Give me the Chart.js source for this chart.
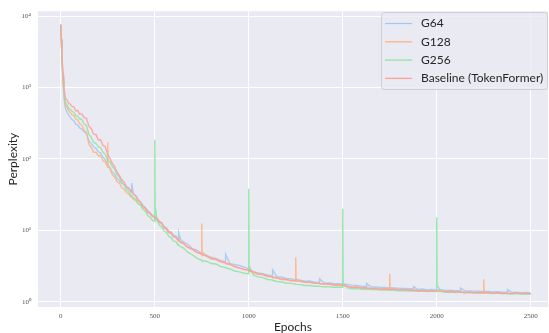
<!DOCTYPE html>
<html>
<head>
<meta charset="utf-8">
<script src="https://cdn.jsdelivr.net/npm/chart.js@4/dist/chart.umd.min.js"></script>
<style>
  html, body { margin: 0; padding: 0; background: #ffffff; }
  #wrap { width: 549px; height: 333px; }
</style>
</head>
<body>
<div id="wrap"><canvas id="chart"></canvas></div>
<script>
// epochs shared by all runs (denser near the start and around spikes)
const epochs = [
  0, 3, 6, 9, 12, 16, 21, 27, 34, 42, 50, 60, 70, 80, 90, 100,
  112, 125, 137, 150, 162, 175, 187, 200, 212, 225, 237, 249,
  250, 252, 262, 275, 287, 300, 312, 325, 337, 350, 362, 375,
  377, 387, 400, 412, 425, 437, 450, 462, 475, 487, 499,
  500, 502, 512, 525, 537, 550, 562, 575, 587, 600, 612, 625,
  627, 637, 650, 675, 700, 725, 749, 750, 752,
  775, 800, 825, 850, 875, 877, 900, 925, 950, 975, 999, 1000, 1002,
  1025, 1050, 1075, 1100, 1125, 1127, 1150, 1175, 1200, 1225, 1249, 1250, 1252,
  1275, 1300, 1325, 1350, 1375, 1377, 1400, 1425, 1450, 1475, 1499, 1500, 1502,
  1525, 1550, 1575, 1600, 1625, 1627, 1650, 1675, 1700, 1725, 1749, 1750, 1752,
  1775, 1800, 1825, 1850, 1875, 1877, 1900, 1925, 1950, 1975, 1999, 2000, 2002,
  2025, 2050, 2075, 2100, 2125, 2127, 2150, 2175, 2200, 2225, 2249, 2250, 2252,
  2275, 2300, 2325, 2350, 2375, 2377, 2400, 2425, 2450, 2475, 2500
];

const g64 = [
  7400, 4400, 2700, 1750, 1200, 820, 590, 490, 450, 415, 385, 355, 345, 305, 302, 272,
  262, 238, 224, 178, 164, 148, 140, 126, 121, 106, 97, 82,
  84, 79, 76, 65, 61, 53, 50, 45.5, 43.5, 39.5, 38, 34.5,
  46, 32.5, 30.5, 27, 25, 22.5, 21, 19, 17.8, 16.3, 15.8,
  15.6, 15.2, 14.9, 13.3, 12.9, 11.3, 10.9, 9.7, 9.5, 8.5, 8.4, 7.5,
  9.3, 7.5, 6.95, 6.4, 5.55, 5.3, 4.78, 4.8, 4.75,
  4.5, 4.2, 4.05, 3.78, 3.64, 4.6, 3.44, 3.32, 3.22, 3.05, 2.92, 2.92, 2.9,
  2.65, 2.53, 2.48, 2.37, 2.31, 2.8, 2.24, 2.22, 2.12, 2.1, 2.02, 2.03, 2.03,
  2.01, 1.94, 1.95, 1.88, 1.89, 2.1, 1.84, 1.83, 1.8, 1.79, 1.76, 1.76, 1.76,
  1.75, 1.71, 1.69, 1.65, 1.64, 1.8, 1.61, 1.61, 1.59, 1.59, 1.56, 1.57, 1.57,
  1.56, 1.54, 1.54, 1.52, 1.52, 1.62, 1.49, 1.51, 1.47, 1.49, 1.46, 1.46, 1.46,
  1.47, 1.44, 1.45, 1.43, 1.44, 1.56, 1.42, 1.42, 1.41, 1.41, 1.39, 1.39, 1.39,
  1.39, 1.37, 1.38, 1.36, 1.37, 1.48, 1.35, 1.36, 1.34, 1.35, 1.33
];

const g128 = [
  7600, 4700, 2950, 1900, 1300, 900, 650, 555, 525, 475, 450, 415, 405, 365, 350, 315,
  298, 250, 238, 160, 146, 124, 124, 111, 112, 94, 91, 77,
  170, 82, 72, 60, 55.5, 48, 46, 39.5, 37.8, 33.8, 32.2, 29,
  29.5, 27.2, 26, 23.6, 23, 20.7, 19.9, 17.8, 17.1, 15.7, 15.3,
  15.1, 14.6, 14.3, 12.9, 12.3, 10.9, 10.4, 9.3, 9.0, 8.1, 7.9, 7.1,
  7.2, 6.75, 6.6, 5.75, 5.4, 4.88, 4.68, 12.5, 5.0,
  4.42, 4.08, 4.0, 3.68, 3.55, 3.5, 3.4, 3.13, 2.96, 2.84, 2.8, 2.78, 2.76,
  2.53, 2.43, 2.39, 2.26, 2.23, 2.2, 2.14, 2.04, 2.03, 1.96, 1.95, 4.2, 2.1,
  1.93, 1.87, 1.87, 1.81, 1.81, 1.8, 1.76, 1.77, 1.72, 1.73, 1.69, 1.69, 1.69,
  1.64, 1.6, 1.61, 1.56, 1.57, 1.56, 1.54, 1.54, 1.51, 1.52, 1.5, 2.46, 1.58,
  1.5, 1.47, 1.48, 1.45, 1.46, 1.45, 1.43, 1.44, 1.42, 1.43, 1.41, 1.41, 1.41,
  1.41, 1.38, 1.39, 1.37, 1.38, 1.37, 1.35, 1.37, 1.34, 1.36, 1.34, 2.07, 1.4,
  1.35, 1.32, 1.34, 1.31, 1.33, 1.32, 1.3, 1.32, 1.3, 1.31, 1.3
];

const g256 = [
  7500, 4600, 2900, 1900, 1350, 950, 690, 595, 565, 515, 495, 465, 448, 405, 398, 365,
  358, 308, 292, 219, 202, 170, 166, 147, 144, 124, 116, 95,
  97, 94, 91, 78, 71.5, 60.5, 55.5, 47, 43.5, 37, 34.8, 30.4,
  30.8, 28.5, 27, 23.5, 22.4, 19.8, 18.6, 16.3, 15.3, 13.9, 13.4,
  186, 22, 13.7, 11.8, 11.3, 9.8, 9.4, 8.2, 8.0, 7.05, 6.95, 6.2,
  6.25, 5.9, 5.75, 4.95, 4.55, 4.05, 3.85, 3.8, 3.75,
  3.7, 3.43, 3.38, 3.12, 3.04, 3.0, 2.88, 2.7, 2.62, 2.51, 2.47, 38.4, 3.2,
  2.35, 2.23, 2.18, 2.05, 2.02, 2.0, 1.92, 1.89, 1.83, 1.81, 1.75, 1.76, 1.75,
  1.74, 1.69, 1.69, 1.65, 1.65, 1.64, 1.62, 1.63, 1.6, 1.61, 1.59, 20, 1.85,
  1.57, 1.52, 1.53, 1.5, 1.51, 1.5, 1.48, 1.49, 1.46, 1.47, 1.45, 1.45, 1.45,
  1.45, 1.42, 1.44, 1.41, 1.43, 1.42, 1.4, 1.42, 1.39, 1.41, 1.39, 15.3, 1.7,
  1.39, 1.36, 1.38, 1.35, 1.37, 1.36, 1.34, 1.35, 1.33, 1.34, 1.33, 1.33, 1.33,
  1.33, 1.3, 1.32, 1.29, 1.31, 1.3, 1.28, 1.3, 1.28, 1.29, 1.28
];

const baseline = [
  7700, 4900, 3100, 2100, 1500, 1050, 820, 690, 670, 595, 590, 545, 535, 470, 480, 425,
  425, 378, 370, 285, 268, 222, 220, 184, 186, 154, 148, 116,
  116, 114, 102, 86, 78, 64.5, 59, 51, 47.5, 41, 39.3, 34.8,
  35.5, 32, 29.8, 26, 24.7, 21.6, 20.6, 18.2, 17.4, 15.8, 15.4,
  15.2, 14.8, 14.5, 13.1, 12.6, 11, 10.5, 9.45, 9.2, 8.3, 8.05, 7.3,
  7.4, 6.9, 6.7, 5.85, 5.45, 4.95, 4.65, 4.6, 4.55,
  4.35, 4.0, 3.9, 3.62, 3.5, 3.45, 3.33, 3.09, 2.98, 2.83, 2.77, 2.75, 2.74,
  2.63, 2.46, 2.43, 2.28, 2.25, 2.22, 2.17, 2.08, 2.07, 1.98, 1.98, 1.97, 1.96,
  1.94, 1.88, 1.87, 1.82, 1.81, 1.8, 1.77, 1.77, 1.73, 1.73, 1.7, 1.7, 1.7,
  1.65, 1.6, 1.6, 1.56, 1.57, 1.56, 1.53, 1.54, 1.51, 1.52, 1.5, 1.5, 1.5,
  1.5, 1.47, 1.48, 1.45, 1.46, 1.45, 1.43, 1.44, 1.41, 1.43, 1.41, 1.41, 1.41,
  1.41, 1.38, 1.39, 1.37, 1.38, 1.37, 1.35, 1.37, 1.34, 1.36, 1.34, 1.34, 1.34,
  1.35, 1.32, 1.34, 1.31, 1.33, 1.32, 1.3, 1.32, 1.3, 1.31, 1.3
];

const seriesLabels = ['G64', 'G128', 'G256', 'Baseline (TokenFormer)'];
const seriesColors = ['#a1c9f4', '#ffb482', '#8de5a1', '#ff9f9b'];
const xTicks = [0, 500, 1000, 1500, 2000, 2500];
const yTicks = [1, 10, 100, 1000, 10000];
const supDigits = { '0': '⁰', '1': '¹', '2': '²', '3': '³', '4': '⁴' };

const allSeries = [g64, g128, g256, baseline];

function toPoints(values) {
  return epochs.map((e, i) => ({ x: e, y: values[i] }));
}

// grey seaborn-style plot background
const bgPlugin = {
  id: 'plotBg',
  beforeDraw(chart) {
    const { ctx, chartArea: a } = chart;
    ctx.save();
    ctx.fillStyle = '#eaeaf2';
    ctx.fillRect(a.left, a.top, a.right - a.left, a.bottom - a.top);
    ctx.restore();
  }
};

// legend box drawn inside the plot, upper right
const legendPlugin = {
  id: 'innerLegend',
  afterDraw(chart) {
    const ctx = chart.ctx;
    const x0 = 381, y0 = 12, w = 166, h = 77;
    ctx.save();
    ctx.fillStyle = 'rgba(234,234,242,0.8)';
    ctx.strokeStyle = '#cfcfd6';
    ctx.lineWidth = 1;
    ctx.beginPath();
    ctx.roundRect(x0 + 0.5, y0 + 0.5, w, h, 3);
    ctx.fill();
    ctx.stroke();
    ctx.font = '12px Lato';
    ctx.textBaseline = 'middle';
    ctx.fillStyle = '#262626';
    seriesLabels.forEach((lab, i) => {
      const y = 23.5 + i * 18.3;
      ctx.strokeStyle = seriesColors[i];
      ctx.lineWidth = 1.3;
      ctx.beginPath();
      ctx.moveTo(385, y);
      ctx.lineTo(412, y);
      ctx.stroke();
      ctx.fillText(lab, 421, y);
    });
    ctx.restore();
  }
};

// baseline on top, then G256, G128, G64
const drawOrder = [3, 2, 1, 0];

new Chart(document.getElementById('chart'), {
  type: 'line',
  data: {
    datasets: allSeries.map((vals, i) => ({
      label: seriesLabels[i],
      data: toPoints(vals),
      borderColor: seriesColors[i] + 'dd',
      borderWidth: 1.4,
      pointRadius: 0,
      tension: 0,
      order: drawOrder[i]
    }))
  },
  options: {
    responsive: true,
    maintainAspectRatio: false,
    animation: false,
    layout: { padding: { top: 6, right: 1, left: 0, bottom: 0 } },
    plugins: {
      legend: { display: false },
      tooltip: { enabled: false }
    },
    scales: {
      x: {
        type: 'linear',
        min: -121,
        max: 2592,
        afterBuildTicks: (s) => { s.ticks = xTicks.map(v => ({ value: v })); },
        afterFit: (s) => { s.height = 26; },
        grid: { color: '#ffffff', lineWidth: 1, drawTicks: false },
        border: { display: false },
        ticks: {
          padding: 5,
          color: '#555555',
          font: { family: 'Liberation Serif', size: 7 },
          maxRotation: 0,
          callback: (v) => String(v)
        },
        title: {
          display: true,
          text: 'Epochs',
          color: '#262626',
          font: { family: 'Lato', size: 12, lineHeight: 1 },
          padding: 0
        }
      },
      y: {
        type: 'logarithmic',
        min: 0.845,
        max: 11720,
        afterBuildTicks: (s) => { s.ticks = yTicks.map(v => ({ value: v })); },
        afterFit: (s) => { s.width = 38; },
        grid: { color: '#ffffff', lineWidth: 1, drawTicks: false },
        border: { display: false },
        ticks: {
          padding: 7,
          color: '#555555',
          font: { family: 'Liberation Serif', size: 7 },
          callback: (v) => '10' + String(Math.round(Math.log10(v))).split('').map(d => supDigits[d]).join('')
        },
        title: {
          display: true,
          text: 'Perplexity',
          color: '#262626',
          font: { family: 'Lato', size: 12, lineHeight: 1 },
          padding: { top: 7, bottom: 0 }
        }
      }
    }
  },
  plugins: [bgPlugin, legendPlugin]
});
</script>
</body>
</html>
